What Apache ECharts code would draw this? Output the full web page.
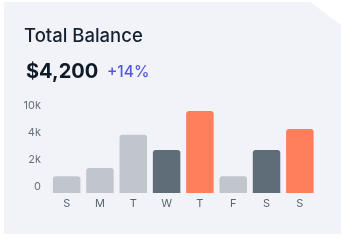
<!DOCTYPE html>
<html><head><meta charset="utf-8">
<script src="https://cdn.jsdelivr.net/npm/echarts@6/dist/echarts.min.js"></script>
<style>html,body{margin:0;padding:0;background:#fff}#c{width:346px;height:242px}</style>
</head><body><div id="c"></div>
<script>
var days = ['S','M','T','W','T','F','S','S'];
var values = [1800, 2700, 6270, 4620, 8820, 1800, 4620, 6880];
var barKinds = ['light','light','light','dark','accent','light','dark','accent'];
var yTickLabels = ['0','2k','4k','10k'];
var kindColors = {light:'#c0c6cc', dark:'#5e6d78', accent:'#ff7e5c'};

var chart = echarts.init(document.getElementById('c'), null, {renderer:'canvas'});
var font = 'Inter, "Noto Sans", sans-serif';
chart.setOption({
  animation:false,
  backgroundColor:'#ffffff',
  graphic:[
    {type:'polygon', z:-10, shape:{points:[[4,2],[310,2],[341,25],[341,234],[4,234]]}, style:{fill:'#f2f3f9'}},
    {type:'text', left:24, top:27, style:{text:'Total Balance', font:'500 18.5px '+font, fill:'#172231'}},
    {type:'text', left:26, top:62, style:{text:'$4,200', font:'700 20px '+font, fill:'#0e1a28'}},
    {type:'text', left:107, top:64, style:{text:'+14%', font:'500 15.5px '+font, fill:'#5457db'}}
  ],
  grid:[
    {left:50, right:29.5, top:100, bottom:49},
    {left:45, width:5, top:106, bottom:55.3}
  ],
  xAxis:[
    {type:'category', gridIndex:0, data:days, axisLine:{show:false}, axisTick:{show:false},
     axisLabel:{color:'#5b6670', fontSize:11, fontFamily:font, margin:5}},
    {type:'category', gridIndex:1, data:[''], show:false}
  ],
  yAxis:[
    {type:'value', gridIndex:0, min:0, max:10000, show:false, splitLine:{show:false}},
    {type:'value', gridIndex:1, min:0, max:3, interval:1, axisLine:{show:false}, axisTick:{show:false},
     splitLine:{show:false},
     axisLabel:{color:'#67717b', fontSize:11, fontFamily:font, margin:4,
       formatter:function(v){return yTickLabels[v];}}}
  ],
  series:[{
    type:'bar', xAxisIndex:0, yAxisIndex:0, barWidth:27.5,
    data: values.map(function(v,i){return {value:v, itemStyle:{color:kindColors[barKinds[i]]}};}),
    itemStyle:{borderRadius:[3,3,0,0]}
  }]
});
</script></body></html>
